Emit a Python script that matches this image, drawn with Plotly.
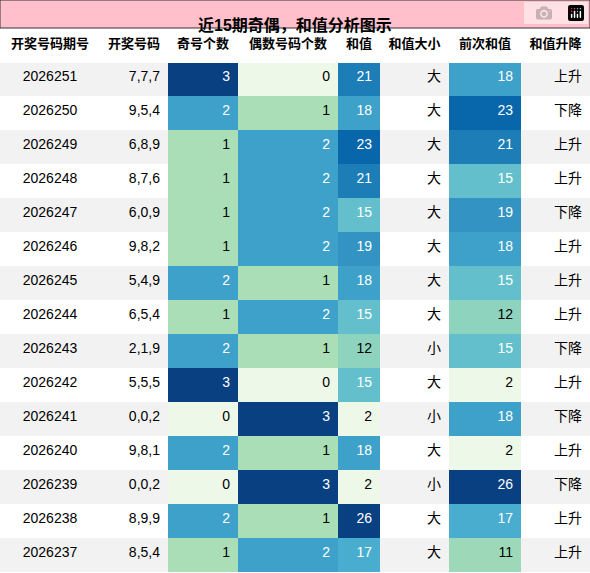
import plotly.graph_objects as go
from plotly.colors import sample_colorscale

headers = ["开奖号码期号", "开奖号码", "奇号个数", "偶数号码个数", "和值", "和值大小", "前次和值", "和值升降"]
issues = ["2026251","2026250","2026249","2026248","2026247","2026246","2026245","2026244","2026243","2026242","2026241","2026240","2026239","2026238","2026237"]
numbers = ["7,7,7","9,5,4","6,8,9","8,7,6","6,0,9","9,8,2","5,4,9","6,5,4","2,1,9","5,5,5","0,0,2","9,8,1","0,0,2","8,9,9","8,5,4"]
odd = [3,2,1,1,1,1,2,1,2,3,0,2,0,2,1]
even = [0,1,2,2,2,2,1,2,1,0,3,1,3,1,2]
sums = [21,18,23,21,15,19,18,15,12,15,2,18,2,26,17]
size = ["大","大","大","大","大","大","大","大","小","大","小","大","小","大","大"]
prev = [18,23,21,15,19,18,15,12,15,2,18,2,26,17,11]
trend = ["上升","下降","上升","上升","下降","上升","上升","上升","下降","上升","下降","上升","下降","上升","上升"]

n = len(issues)
stripe = ["#f2f2f2" if i % 2 == 0 else "#ffffff" for i in range(n)]
FONT = "Liberation Sans, Noto Sans CJK SC"

def colors(vals, lo, hi):
    t = [(v - lo) / (hi - lo) for v in vals]
    return sample_colorscale("GnBu", [0.05 + 0.95 * x for x in t]), ["white" if x > 0.5 else "black" for x in t]

oc, of = colors(odd, 0, 3)
ec, ef = colors(even, 0, 3)
sc, sf = colors(sums, 2, 26)
pc, pf = colors(prev, 2, 26)
blk = ["black"] * n

fig = go.Figure(go.Table(
    columnwidth=[100, 68, 70, 100, 42, 69, 72, 69],
    header=dict(values=[f"<b>{h}</b>" for h in headers], fill_color="white",
                line_color="white", align="center", height=34,
                font=dict(family=FONT, size=13, color="black")),
    cells=dict(values=[issues, numbers, odd, even, sums, size, prev, trend],
               fill_color=[stripe, stripe, oc, ec, sc, stripe, pc, stripe],
               line_color="rgba(0,0,0,0)",
               align=["center", "right", "right", "right", "right", "right", "right", "right"],
               height=34,
               font=dict(family=FONT, size=14,
                         color=[blk, blk, of, ef, sf, blk, pf, blk])),
    domain=dict(x=[0, 1], y=[0, 545 / 573]),
))
fig.add_shape(type="rect", xref="paper", yref="paper", x0=0, x1=1, y0=545 / 573, y1=1,
              fillcolor="#ffc0cb", line=dict(color="#333", width=1))
fig.add_annotation(text="<b>近15期奇偶，和值分析图示</b>", xref="paper", yref="paper",
                   x=0.5, y=559 / 573, showarrow=False,
                   font=dict(family=FONT, size=16, color="black"))
fig.update_layout(width=590, height=573, margin=dict(l=0, r=0, t=0, b=0),
                  paper_bgcolor="white")
fig.write_html("out.html", post_script="document.body.style.margin='0';document.body.style.overflow='hidden';")
